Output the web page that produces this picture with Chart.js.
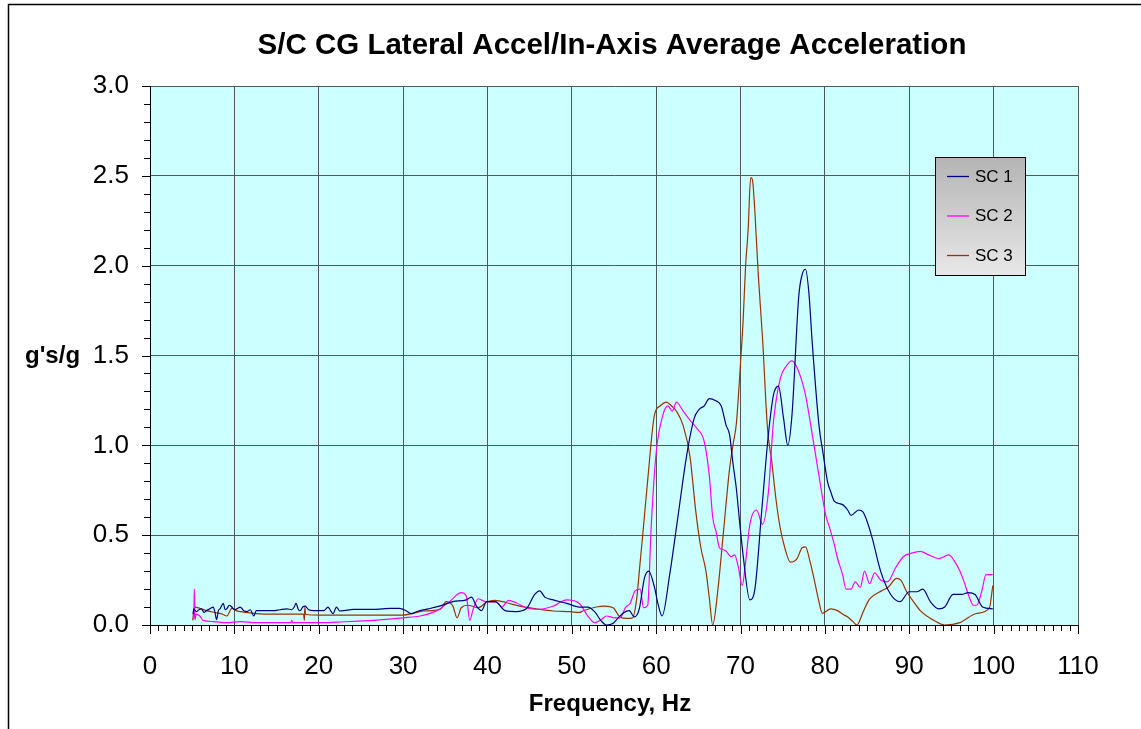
<!DOCTYPE html>
<html><head><meta charset="utf-8">
<script src="https://cdn.jsdelivr.net/npm/chart.js@4.4.1/dist/chart.umd.min.js"></script>
<style>html,body{margin:0;padding:0;background:#fff;} canvas{display:block;}</style>
</head><body>
<canvas id="c" width="1141" height="729"></canvas>
<script>
const chartTitle = "S/C CG Lateral Accel/In-Axis Average Acceleration";
const xAxisTitle = "Frequency, Hz";
const yAxisTitle = "g's/g";
const seriesNames = ["SC 1", "SC 2", "SC 3"];
const seriesColors = ["#000080", "#FF00FF", "#993300"];

const sc1Freq = [5.1,5.2,5.5,5.8,6.1,6.4,6.7,7.1,7.5,7.7,7.9,8.1,8.3,8.7,8.9,9.1,9.4,9.7,10.0,10.3,10.7,11.1,11.5,11.9,12.3,12.6,12.8,13.5,14.6,15.4,16.2,16.8,17.1,17.3,17.6,17.8,18.1,18.4,18.8,19.4,20.0,20.6,21.1,21.4,21.7,22.1,22.5,23.0,24.1,25.5,26.5,27.5,28.5,29.6,30.4,31.0,31.6,32.0,33.0,34.3,35.9,37.5,38.1,38.7,39.3,39.9,40.9,42.1,43.4,44.6,45.6,46.2,46.8,47.8,49.4,50.9,51.9,52.7,53.5,54.1,54.9,55.5,56.2,56.8,57.4,58.0,58.6,59.1,59.8,60.2,60.7,61.6,62.6,63.6,64.5,65.1,65.7,66.3,67.0,67.7,68.3,68.7,69.1,69.5,69.9,70.3,71.1,71.7,72.5,73.3,73.9,74.5,75.1,75.6,76.1,76.9,77.3,77.7,78.1,78.5,79.3,79.8,80.3,80.7,81.1,82.1,82.7,83.1,84.0,84.5,84.9,85.6,86.6,87.8,88.9,90.0,90.9,91.6,92.5,93.5,94.2,95.2,96.2,97.0,97.8,98.7,99.9];
const sc1Vals = [0.06,0.09,0.074,0.085,0.09,0.07,0.08,0.09,0.10,0.07,0.03,0.08,0.09,0.12,0.085,0.09,0.11,0.10,0.085,0.09,0.10,0.08,0.075,0.085,0.05,0.08,0.08,0.08,0.08,0.085,0.09,0.085,0.10,0.12,0.085,0.08,0.10,0.105,0.085,0.08,0.08,0.08,0.10,0.08,0.063,0.10,0.078,0.08,0.087,0.087,0.087,0.09,0.093,0.093,0.078,0.063,0.074,0.08,0.09,0.105,0.13,0.14,0.155,0.105,0.08,0.13,0.13,0.08,0.075,0.09,0.17,0.19,0.155,0.14,0.12,0.10,0.10,0.074,0.022,0.0,0.01,0.04,0.07,0.08,0.045,0.09,0.26,0.30,0.21,0.12,0.05,0.28,0.61,0.94,1.15,1.20,1.22,1.26,1.25,1.22,1.11,1.06,0.90,0.76,0.57,0.39,0.14,0.20,0.63,1.06,1.28,1.33,1.15,1.00,1.17,1.83,1.95,1.98,1.85,1.57,1.11,0.95,0.80,0.74,0.69,0.67,0.64,0.61,0.64,0.63,0.59,0.485,0.30,0.17,0.13,0.185,0.185,0.20,0.13,0.09,0.10,0.17,0.17,0.18,0.17,0.10,0.09];

const sc2Freq = [5.2,5.25,5.35,5.45,5.9,6.3,7.5,9.1,10.7,12.5,14.6,16.7,16.8,16.9,20.2,23.0,26.5,30.0,32.0,34.0,35.5,36.9,37.5,37.9,38.3,38.9,39.9,41.1,41.7,42.5,43.4,44.6,46.2,47.8,49.4,50.9,51.9,52.7,53.5,54.1,55.1,55.7,56.4,56.9,57.5,58.1,58.5,59.0,59.4,60.0,60.8,61.4,61.9,62.4,63.2,64.0,64.9,65.7,66.3,66.7,67.1,67.5,67.9,68.3,68.9,69.3,69.7,70.2,70.6,71.1,71.9,72.6,73.3,73.9,74.7,75.4,76.1,76.9,77.7,78.5,79.3,80.1,80.5,81.1,81.5,82.1,82.5,83.1,83.6,84.2,84.7,85.3,85.9,86.6,87.4,88.4,89.3,90.3,91.3,92.3,93.5,94.7,95.3,96.0,96.5,97.0,97.6,98.0,98.6,99.1,99.9];
const sc2Vals = [0.03,0.20,0.03,0.06,0.05,0.026,0.019,0.013,0.019,0.013,0.013,0.013,0.026,0.013,0.013,0.018,0.026,0.04,0.05,0.08,0.13,0.18,0.16,0.026,0.087,0.146,0.128,0.128,0.10,0.137,0.124,0.096,0.087,0.105,0.14,0.12,0.05,0.013,0.03,0.05,0.04,0.04,0.10,0.12,0.19,0.20,0.096,0.11,0.54,0.96,1.17,1.22,1.19,1.24,1.19,1.14,1.09,1.02,0.83,0.60,0.52,0.43,0.42,0.41,0.38,0.39,0.33,0.22,0.35,0.56,0.64,0.56,0.74,1.13,1.37,1.44,1.47,1.41,1.28,1.06,0.83,0.61,0.55,0.45,0.37,0.28,0.20,0.20,0.24,0.21,0.30,0.23,0.29,0.25,0.24,0.32,0.38,0.40,0.41,0.39,0.37,0.39,0.36,0.30,0.24,0.17,0.11,0.11,0.19,0.28,0.28];

const sc3Freq = [5.06,5.3,5.9,6.7,7.9,8.6,9.1,9.7,10.2,10.7,12.6,14.6,16.5,18.2,18.3,18.35,18.45,20.2,22.5,26.5,30.0,31.2,32.4,34.4,35.1,35.9,36.4,36.9,37.7,38.9,39.9,40.9,42.3,43.8,45.8,47.8,49.8,50.9,51.3,52.9,53.9,54.9,55.7,56.5,57.2,57.7,58.0,58.5,59.0,59.8,60.5,61.2,61.8,62.4,63.2,64.0,64.7,65.3,65.9,66.3,66.7,67.3,67.9,68.7,69.1,69.5,70.0,70.3,70.6,70.9,71.2,71.4,71.7,72.1,72.6,73.2,73.7,74.2,74.7,75.3,75.9,76.7,77.3,77.7,78.2,78.7,79.2,79.7,80.7,81.5,82.3,82.7,83.3,83.8,84.5,85.1,85.4,86.7,87.5,88.5,89.0,89.7,90.5,91.3,92.9,94.2,96.0,97.96,99.5,99.9];
const sc3Vals = [0.026,0.10,0.093,0.08,0.068,0.06,0.05,0.093,0.08,0.074,0.063,0.06,0.06,0.06,0.026,0.10,0.06,0.055,0.055,0.055,0.055,0.065,0.078,0.087,0.13,0.105,0.04,0.096,0.11,0.096,0.128,0.137,0.124,0.105,0.09,0.078,0.074,0.07,0.078,0.10,0.105,0.096,0.045,0.037,0.04,0.15,0.30,0.55,0.81,1.17,1.22,1.24,1.22,1.19,1.11,0.94,0.63,0.43,0.30,0.15,0.0,0.19,0.48,0.87,1.0,1.12,1.46,1.69,2.0,2.2,2.49,2.48,2.3,1.95,1.6,1.09,0.91,0.70,0.54,0.42,0.35,0.37,0.43,0.435,0.36,0.26,0.15,0.065,0.09,0.08,0.055,0.045,0.02,0.0,0.07,0.13,0.15,0.19,0.21,0.26,0.25,0.185,0.13,0.08,0.026,0.0,0.013,0.064,0.095,0.22];

const xTickMin = 0, xTickMax = 110, xMajorStep = 10, xMinorStep = 1;
const yTickMin = 0, yTickMax = 3, yMajorStep = 0.5, yMinorStep = 0.1;

const FONT = "'Liberation Sans', Arial, sans-serif";
const GRID = "#505858";

function pts(f, v) { return f.map((x, i) => ({ x: x, y: v[i] })); }
const allFreq = [sc1Freq, sc2Freq, sc3Freq];
const allVals = [sc1Vals, sc2Vals, sc3Vals];

function isMajor(v, step) { const r = v / step; return Math.abs(r - Math.round(r)) < 1e-6; }

const deco = {
  id: 'deco',
  beforeDraw(chart) {
    const { ctx, chartArea: a } = chart;
    ctx.save();
    ctx.fillStyle = '#ffffff';
    ctx.fillRect(0, 0, chart.width, chart.height);
    ctx.fillStyle = '#CCFFFF';
    ctx.fillRect(a.left, a.top, a.right - a.left, a.bottom - a.top);
    ctx.restore();
  },
  afterDraw(chart) {
    const ctx = chart.ctx, xs = chart.scales.x, ys = chart.scales.y, a = chart.chartArea;
    ctx.save();
    ctx.strokeStyle = '#000'; ctx.lineWidth = 1.5;
    ctx.strokeRect(8.5, 4.5, 1300, 900);
    ctx.lineWidth = 1; ctx.strokeStyle = '#000';
    xs.ticks.forEach(t => {
      const px = Math.round(xs.getPixelForValue(t.value)) + 0.5;
      const len = isMajor(t.value, xMajorStep) ? 9 : 6;
      ctx.beginPath(); ctx.moveTo(px, a.bottom); ctx.lineTo(px, a.bottom + len); ctx.stroke();
    });
    ys.ticks.forEach(t => {
      const py = Math.round(ys.getPixelForValue(t.value)) + 0.5;
      const len = isMajor(t.value, yMajorStep) ? 8 : 6;
      ctx.beginPath(); ctx.moveTo(a.left, py); ctx.lineTo(a.left - len, py); ctx.stroke();
    });
    ctx.fillStyle = '#000';
    ctx.font = "bold 29.5px " + FONT;
    ctx.textAlign = 'center'; ctx.textBaseline = 'alphabetic';
    ctx.fillText(chartTitle, 612, 54);
    ctx.font = "bold 24px " + FONT;
    ctx.fillText(xAxisTitle, 610, 711);
    ctx.textAlign = 'left';
    ctx.fillText(yAxisTitle, 25, 363);
    // legend
    const lx = 935, ly = 157, lw = 90, lh = 118;
    const g = ctx.createLinearGradient(0, ly, 0, ly + lh);
    g.addColorStop(0, '#b4b4b4'); g.addColorStop(1, '#e8e8e8');
    ctx.fillStyle = g; ctx.fillRect(lx, ly, lw, lh);
    ctx.strokeStyle = '#000'; ctx.lineWidth = 1;
    ctx.strokeRect(lx + 0.5, ly + 0.5, lw, lh);
    ctx.font = "17px " + FONT; ctx.textBaseline = 'middle'; ctx.textAlign = 'left';
    chart.data.datasets.forEach((d, i) => {
      const yy = 176 + i * 39.5;
      ctx.strokeStyle = d.borderColor; ctx.lineWidth = 1.3;
      ctx.beginPath(); ctx.moveTo(947, yy + 0.5); ctx.lineTo(969, yy + 0.5); ctx.stroke();
      ctx.fillStyle = '#000';
      ctx.fillText(d.label, 975, yy + 1);
    });
    ctx.restore();
  }
};

new Chart(document.getElementById('c'), {
  type: 'line',
  data: {
    datasets: seriesNames.map((n, i) => ({
      label: n,
      data: pts(allFreq[i], allVals[i]),
      borderColor: seriesColors[i],
      backgroundColor: seriesColors[i],
      borderWidth: 1.2,
      pointRadius: 0,
      fill: false,
      cubicInterpolationMode: 'monotone'
    }))
  },
  options: {
    responsive: false,
    animation: false,
    events: [],
    layout: { padding: { left: 0, top: 86, right: 63, bottom: 0 } },
    plugins: { legend: { display: false }, title: { display: false }, tooltip: { enabled: false } },
    scales: {
      x: {
        type: 'linear', min: xTickMin, max: xTickMax,
        afterFit: s => { s.height = 104; },
        border: { display: true, color: '#000', width: 1 },
        grid: {
          drawTicks: false,
          color: c => isMajor(c.tick.value, xMajorStep) ? GRID : 'rgba(0,0,0,0)',
          lineWidth: 1
        },
        ticks: {
          stepSize: xMinorStep, autoSkip: false, maxRotation: 0, minRotation: 0,
          padding: 26, color: '#000', font: { family: FONT, size: 26 },
          callback: v => isMajor(v, xMajorStep) ? String(Math.round(v)) : ''
        }
      },
      y: {
        type: 'linear', min: yTickMin, max: yTickMax,
        afterFit: s => { s.width = 150; },
        border: { display: true, color: '#000', width: 1 },
        grid: {
          drawTicks: false,
          color: c => isMajor(c.tick.value, yMajorStep) ? GRID : 'rgba(0,0,0,0)',
          lineWidth: 1
        },
        ticks: {
          stepSize: yMinorStep, autoSkip: false,
          padding: 21, color: '#000', font: { family: FONT, size: 26 },
          callback: v => isMajor(v, yMajorStep) ? v.toFixed(1) : ''
        }
      }
    }
  },
  plugins: [deco]
});
</script>
</body></html>
